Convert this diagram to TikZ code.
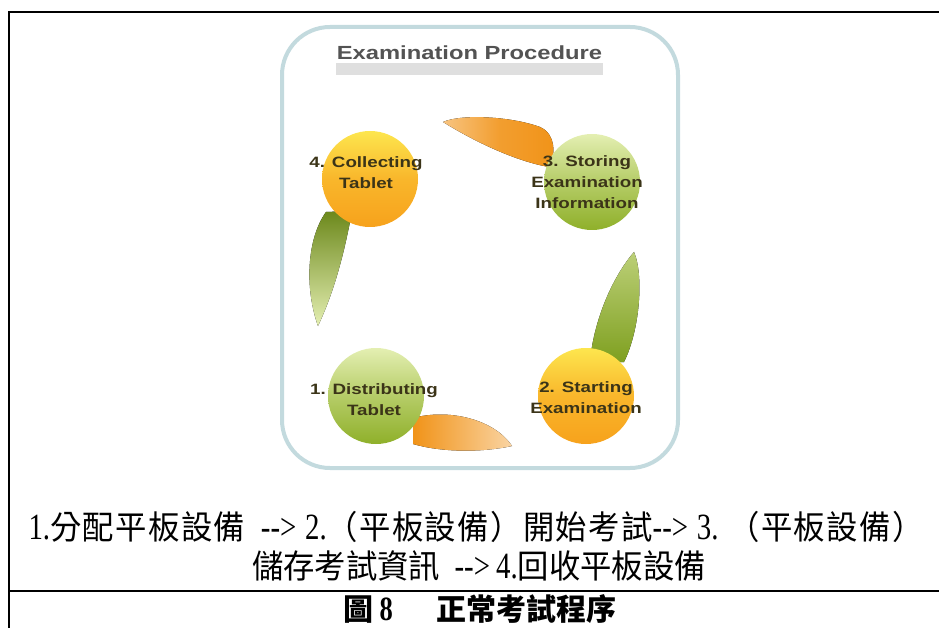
\documentclass[tikz,border=0pt]{standalone}
\usepackage{fontspec}
\setmainfont[FakeStretch=0.78]{Liberation Serif}
\newfontfamily\cjk[FakeStretch=0.95]{Noto Sans CJK TC}
\newfontfamily\cjkcap{Noto Sans CJK TC}
\newfontfamily\lab[FakeStretch=1.25]{Liberation Sans}
\usetikzlibrary{shadings}
\definecolor{frameblue}{HTML}{C3DADE}
\definecolor{orA}{HTML}{FDE64E}
\definecolor{orB}{HTML}{F7A21C}
\definecolor{orL}{HTML}{F19318}
\definecolor{grA}{HTML}{E4EFB2}
\definecolor{grB}{HTML}{8FB02A}
\definecolor{grL}{HTML}{7FA020}
\definecolor{labtxt}{HTML}{3B3418}
\newcommand\gl{\hskip 0pt plus 1fil\relax}
\newcommand\cj[1]{{\cjk\fontsize{33}{38}\selectfont #1}}
\tikzset{
  rule/.style={line width=2pt,black},
  orball/.style={circle,minimum size=96pt,inner sep=0pt,top color=orA,bottom color=orB,middle color=orB!70!orA},
  grball/.style={circle,minimum size=96pt,inner sep=0pt,top color=grA,bottom color=grB,middle color=grB!55!grA},
  balltext/.style={font=\lab\bfseries\fontsize{15}{21}\selectfont,text=labtxt,align=center},
  orleaf/.style={left color=orL!55!white,right color=orL,middle color=orL!90!white},
  grleaf/.style={top color=grA,bottom color=grL},
  maintext/.style={font=\fontsize{37}{40}\selectfont,inner sep=0pt}
}
\begin{document}
\begin{tikzpicture}[x=1pt,y=-1pt]
\useasboundingbox (0,0) rectangle (939,628);
% outer table rules
\draw[rule] (8.5,628) -- (8.5,12) -- (939,12);
\draw[rule] (8.5,591) -- (939,591);
% rounded panel
\draw[frameblue,line width=4pt,rounded corners=48pt] (282,27) rectangle (678,468);
% title
\fill[gray!25] (336,63) rectangle (603,75);
\node[font=\lab\bfseries\fontsize{19}{22}\selectfont,text=gray!65!black,inner sep=0pt] (title) at (469.5,53) {Examination Procedure};
% leaves
\fill[orleaf] (443,122) .. controls (460,114) and (510,116) .. (540,127)
  .. controls (556,134) and (556,155) .. (549,167)
  .. controls (520,162) and (480,145) .. (443,122) -- cycle;
\fill[grleaf,top color=grA!60!grL,bottom color=grL] (634,252) .. controls (644,275) and (640,330) .. (624,362)
  -- (590,362) .. controls (593,325) and (610,280) .. (634,252) -- cycle;
\fill[orleaf,left color=orL,right color=orL!40!white] (413,418) .. controls (450,408) and (495,420) .. (512,446)
  .. controls (480,453) and (440,452) .. (413,444) -- cycle;
\fill[grleaf,top color=grL!85!black,bottom color=grA] (326,212) -- (352,211)
  .. controls (345,250) and (335,290) .. (318,326)
  .. controls (305,290) and (306,240) .. (326,212) -- cycle;
% balls
\node[orball] (b4) at (370,179) {};
\node[grball] (b3) at (592,182) {};
\node[grball] (b1) at (376,396) {};
\node[orball] (b2) at (586,396) {};
\node[balltext] (t4) at (366,173) {4. Collecting\\Tablet};
\node[balltext] (t3) at (587,182) {3. Storing\\Examination\\Information};
\node[balltext] (t1) at (374,400) {1. Distributing\\Tablet};
\node[balltext] (t2) at (586,398) {2. Starting\\Examination};
% caption text
\node[maintext] (l1) at (476,527)
  {\makebox[895pt][s]{1.\cj{分\gl{}配\gl{}平\gl{}板\gl{}設\gl{}備}\gl{}\ \ -{}->\gl{}\ 2.\cj{（\gl{}平\gl{}板\gl{}設\gl{}備\gl{}）\gl{}開\gl{}始\gl{}考\gl{}試}-{}->\gl{}\ 3.\gl{}\ \gl{}\cj{（\gl{}平\gl{}板\gl{}設\gl{}備\gl{}）}}};
\node[maintext] (l2) at (479,566) {\cj{儲存考試資訊}\ \ -{}->\,4.\cj{回收平板設備}};
\node[font=\bfseries\fontsize{34}{36}\selectfont,inner sep=0pt] (cap) at (480,609)
  {{\cjkcap\bfseries\fontsize{30}{34}\selectfont 圖}\ 8\hspace{44pt}{\cjkcap\bfseries\fontsize{30}{34}\selectfont 正常考試程序}};
\end{tikzpicture}
\end{document}
